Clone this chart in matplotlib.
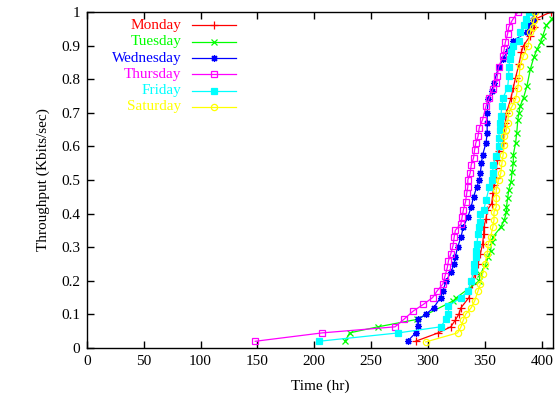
import matplotlib
matplotlib.use("Agg")
import matplotlib.pyplot as plt

plt.rcParams['font.family'] = ['Liberation Serif', 'DejaVu Serif']

# CDF points (time in hr, cumulative fraction)
mon_x = [289, 309, 320, 324, 327, 329, 336, 339, 341, 344, 346, 348, 349, 349, 351, 352, 356, 357, 358, 360,
         360, 361, 362, 366, 367, 368, 369, 373, 375, 377, 380, 382, 384, 390, 393, 395, 408]
mon_y = [0.02, 0.045, 0.063, 0.083, 0.10, 0.12, 0.15, 0.19, 0.22, 0.25, 0.28, 0.31, 0.34, 0.36, 0.385, 0.41, 0.43, 0.46, 0.485, 0.505,
         0.535, 0.56, 0.585, 0.61, 0.64, 0.67, 0.70, 0.745, 0.775, 0.805, 0.845, 0.88, 0.90, 0.93, 0.955, 0.98, 1.0]

tue_x = [227, 231, 256, 290, 322, 325, 345, 346, 350, 353, 355, 356, 357, 364, 367, 369, 369, 370, 371, 373,
         374, 375, 375, 377, 378, 379, 380, 381, 384, 387, 390, 393, 396, 399, 401, 404, 409, 415]
tue_y = [0.02, 0.045, 0.063, 0.085, 0.14, 0.15, 0.20, 0.22, 0.245, 0.27, 0.29, 0.315, 0.33, 0.36, 0.38, 0.405, 0.42, 0.445, 0.47, 0.495,
         0.525, 0.55, 0.575, 0.61, 0.64, 0.68, 0.70, 0.72, 0.745, 0.78, 0.83, 0.865, 0.89, 0.91, 0.93, 0.96, 0.98, 1.0]

wed_x = [282, 289, 291, 291, 298, 305, 311, 313, 316, 320, 323, 324, 326, 329, 331, 335, 338, 340, 343, 345,
         346, 347, 348, 351, 352, 352, 352, 353, 356, 358, 362, 366, 370, 375, 387, 390, 392, 393]
wed_y = [0.02, 0.045, 0.065, 0.085, 0.10, 0.12, 0.15, 0.17, 0.20, 0.225, 0.25, 0.27, 0.30, 0.33, 0.36, 0.39, 0.42, 0.45, 0.48, 0.50,
         0.52, 0.55, 0.575, 0.61, 0.64, 0.67, 0.70, 0.74, 0.765, 0.79, 0.835, 0.86, 0.885, 0.915, 0.94, 0.96, 0.975, 1.0]

thu_x = [148, 207, 271, 279, 287, 296, 304, 308, 313, 315, 317, 318, 320, 322, 323, 324, 329, 330, 331, 333,
         334, 335, 335, 337, 338, 340, 341, 342, 344, 345, 348, 351, 354, 357, 360, 361, 362, 366, 367, 368,
         370, 371, 374, 379]
thu_y = [0.02, 0.045, 0.063, 0.086, 0.11, 0.13, 0.15, 0.17, 0.19, 0.215, 0.24, 0.26, 0.28, 0.305, 0.33, 0.35, 0.37, 0.39, 0.41, 0.435,
         0.46, 0.48, 0.50, 0.52, 0.545, 0.565, 0.59, 0.61, 0.63, 0.655, 0.68, 0.72, 0.745, 0.77, 0.79, 0.81, 0.835, 0.87, 0.89, 0.91,
         0.935, 0.955, 0.975, 1.0]

fri_x = [204, 274, 311, 316, 318, 318, 329, 335, 338, 340, 340, 342, 342, 343, 344, 345, 346, 346, 349, 351,
         354, 356, 357, 357, 360, 362, 362, 363, 363, 364, 365, 366, 370, 371, 371, 372, 373, 375, 380, 381,
         384, 386, 389]
fri_y = [0.02, 0.045, 0.063, 0.086, 0.10, 0.125, 0.15, 0.17, 0.20, 0.23, 0.25, 0.27, 0.29, 0.31, 0.34, 0.36, 0.375, 0.40, 0.41, 0.44,
         0.48, 0.50, 0.52, 0.545, 0.57, 0.60, 0.625, 0.65, 0.67, 0.69, 0.72, 0.745, 0.775, 0.81, 0.835, 0.86, 0.88, 0.90, 0.915, 0.94,
         0.96, 0.98, 1.0]

sat_x = [298, 326, 329, 331, 333, 338, 341, 344, 346, 348, 350, 352, 353, 355, 357, 358, 358, 360, 360, 360,
         362, 364, 365, 366, 367, 367, 369, 370, 371, 374, 377, 379, 380, 381, 384, 388, 390, 392, 393, 394]
sat_y = [0.018, 0.045, 0.063, 0.083, 0.10, 0.12, 0.14, 0.17, 0.19, 0.22, 0.25, 0.28, 0.31, 0.33, 0.36, 0.38, 0.405, 0.42, 0.445, 0.47,
         0.50, 0.52, 0.55, 0.575, 0.605, 0.63, 0.65, 0.67, 0.70, 0.72, 0.74, 0.775, 0.805, 0.84, 0.87, 0.90, 0.94, 0.955, 0.975, 1.0]

labels = ['Monday', 'Tuesday', 'Wednesday', 'Thursday', 'Friday', 'Saturday']
colors = ['#ff0000', '#00ff00', '#0000ff', '#ff00ff', '#00ffff', '#ffff00']
markers = ['+', 'x', (8, 2, 0), 's', 's', 'o']
msizes = [5.5, 4.5, 5, 4.5, 4.5, 4.5]
filled = [True, True, True, False, True, False]
series = [(mon_x, mon_y), (tue_x, tue_y), (wed_x, wed_y), (thu_x, thu_y), (fri_x, fri_y), (sat_x, sat_y)]

fig = plt.figure(figsize=(5.57, 4.0), dpi=100)
ax = fig.add_axes([0.156, 0.13, 0.837, 0.84])

for (xs, ys), lab, c, m, ms, f in zip(series, labels, colors, markers, msizes, filled):
    ax.plot(xs, ys, color=c, lw=0.9, marker=m, ms=ms, mew=0.9,
            mfc=c if f else 'none', mec=c, label=lab)

ax.set_xlim(0, 410)
ax.set_ylim(0, 1)
ax.set_xticks(range(0, 401, 50))
ax.set_yticks([i / 10 for i in range(11)])
ax.set_yticklabels(['0', '0.1', '0.2', '0.3', '0.4', '0.5', '0.6', '0.7', '0.8', '0.9', '1'])
ax.tick_params(direction='in', top=True, right=True, length=5, width=1, labelsize=11, pad=5)
for s in ax.spines.values():
    s.set_linewidth(1)
ax.set_xlabel('Time (hr)', fontsize=11, labelpad=8)
ax.set_ylabel('Throughput (Kbits/sec)', fontsize=11, labelpad=8)

# gnuplot-style key: right-aligned coloured text, then sample line
for i, (lab, c, m, ms, f) in enumerate(zip(labels, colors, markers, msizes, filled)):
    yy = 0.96 - i * 0.0485
    ax.text(0.203, yy, lab, color=c, fontsize=11, ha='right', va='center', transform=ax.transAxes)
    ax.plot([0.226, 0.32], [yy, yy], color=c, lw=0.9, transform=ax.transAxes, clip_on=False)
    ax.plot([0.273], [yy], color=c, marker=m, ms=ms, mew=0.9,
            mfc=c if f else 'none', mec=c, transform=ax.transAxes, clip_on=False)

fig.savefig('out.png', dpi=100)
